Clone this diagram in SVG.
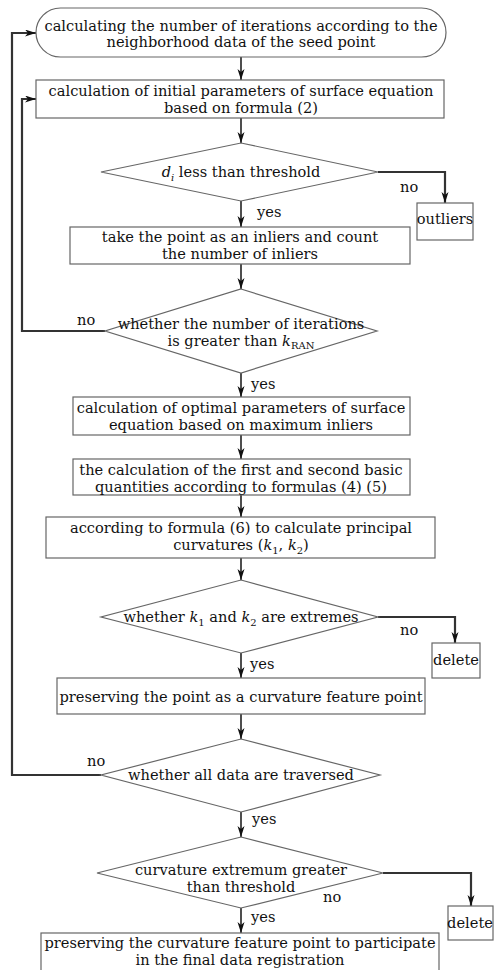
<svg xmlns="http://www.w3.org/2000/svg" width="494" height="970" viewBox="0 0 494 970">
<style>
.s{fill:#fff;stroke:#666;stroke-width:1.2}
.t{font-family:"DejaVu Serif","Liberation Serif",serif;font-size:14.6px;fill:#111;text-anchor:middle}
.l{font-family:"DejaVu Serif","Liberation Serif",serif;font-size:14.6px;fill:#111}
.c{fill:none;stroke:#222;stroke-width:1.6}
.c2{fill:none;stroke:#333;stroke-width:2.2}
.sub{font-size:10px}
</style>
<defs>
<marker id="a" markerUnits="userSpaceOnUse" markerWidth="12" markerHeight="8" refX="11" refY="3.5" orient="auto">
<path d="M0,0 L11,3.5 L0,7 L3,3.5 Z" fill="#111"/>
</marker>
</defs>
<rect width="494" height="970" fill="#fff"/>
<g id="connectors">
<path class="c" d="M241,57 V80" marker-end="url(#a)"/>
<path class="c" d="M241,118 V143" marker-end="url(#a)"/>
<path class="c" d="M241,201 V227" marker-end="url(#a)"/>
<path class="c2" d="M378,172 H445 V203" marker-end="url(#a)"/>
<path class="c" d="M241,264 V289" marker-end="url(#a)"/>
<path class="c" d="M241,373 V397" marker-end="url(#a)"/>
<path class="c2" d="M105,331 H22 V99 H36" marker-end="url(#a)"/>
<path class="c" d="M241,435 V459" marker-end="url(#a)"/>
<path class="c" d="M241,495 V517" marker-end="url(#a)"/>
<path class="c" d="M241,558 V580" marker-end="url(#a)"/>
<path class="c2" d="M378,617 H455 V643" marker-end="url(#a)"/>
<path class="c" d="M241,653 V678" marker-end="url(#a)"/>
<path class="c" d="M241,714 V739" marker-end="url(#a)"/>
<path class="c2" d="M101,775 H12 V33 H36" marker-end="url(#a)"/>
<path class="c" d="M241,812 V837" marker-end="url(#a)"/>
<path class="c2" d="M383,873 H471 V906" marker-end="url(#a)"/>
<path class="c" d="M241,908 V933" marker-end="url(#a)"/>
<text class="l" x="400" y="192">no</text>
<text class="l" x="257" y="217">yes</text>
<text class="l" x="77" y="325">no</text>
<text class="l" x="251" y="389">yes</text>
<text class="l" x="400" y="635">no</text>
<text class="l" x="250" y="669">yes</text>
<text class="l" x="87" y="766">no</text>
<text class="l" x="252" y="824">yes</text>
<text class="l" x="323" y="902">no</text>
<text class="l" x="251" y="922">yes</text>
</g>
<g id="n1">
<rect class="s" x="36" y="8" width="410" height="49" rx="24.5"/>
<text class="t" x="241" y="30.5">calculating the number of iterations according to the</text>
<text class="t" x="241" y="47">neighborhood data of the seed point</text>
</g>
<g id="n2">
<rect class="s" x="36" y="80" width="408" height="38"/>
<text class="t" x="241" y="96">calculation of initial parameters of surface equation</text>
<text class="t" x="241" y="113">based on formula (2)</text>
</g>
<g id="n3">
<polygon class="s" points="241,143 378,172 241,201 101,172"/>
<text class="t" x="241" y="177"><tspan font-style="italic">d</tspan><tspan class="sub" font-style="italic" dy="4">i</tspan><tspan dy="-4"> less than threshold</tspan></text>
</g>
<g id="n4">
<rect class="s" x="417" y="203" width="56" height="37"/>
<text class="t" x="445" y="224">outliers</text>
</g>
<g id="n5">
<rect class="s" x="70" y="227" width="340" height="37"/>
<text class="t" x="240" y="242">take the point as an inliers and count</text>
<text class="t" x="240" y="259">the number of inliers</text>
</g>
<g id="n6">
<polygon class="s" points="241,289 377,331 241,373 105,331"/>
<text class="t" x="241" y="329">whether the number of iterations</text>
<text class="t" x="241" y="346">is greater than <tspan font-style="italic">k</tspan><tspan class="sub" dy="3" font-size="8">RAN</tspan></text>
</g>
<g id="n7">
<rect class="s" x="73" y="397" width="337" height="38"/>
<text class="t" x="241" y="413">calculation of optimal parameters of surface</text>
<text class="t" x="241" y="430">equation based on maximum inliers</text>
</g>
<g id="n8">
<rect class="s" x="73" y="459" width="337" height="36"/>
<text class="t" x="241" y="475">the calculation of the first and second basic</text>
<text class="t" x="241" y="492">quantities according to formulas (4) (5)</text>
</g>
<g id="n9">
<rect class="s" x="46" y="517" width="389" height="41"/>
<text class="t" x="241" y="533">according to formula (6) to calculate principal</text>
<text class="t" x="241" y="550">curvatures (<tspan font-style="italic">k</tspan><tspan class="sub" dy="4">1</tspan><tspan dy="-4">, </tspan><tspan font-style="italic">k</tspan><tspan class="sub" dy="4">2</tspan><tspan dy="-4">)</tspan></text>
</g>
<g id="n10">
<polygon class="s" points="241,580 378,617 241,653 101,617"/>
<text class="t" x="241" y="622">whether <tspan font-style="italic">k</tspan><tspan class="sub" dy="4">1</tspan><tspan dy="-4"> and </tspan><tspan font-style="italic">k</tspan><tspan class="sub" dy="4">2</tspan><tspan dy="-4"> are extremes</tspan></text>
</g>
<g id="n11">
<rect class="s" x="432" y="643" width="48" height="35"/>
<text class="t" x="456" y="665">delete</text>
</g>
<g id="n12">
<rect class="s" x="57" y="678" width="368" height="36"/>
<text class="t" x="241" y="702">preserving the point as a curvature feature point</text>
</g>
<g id="n13">
<polygon class="s" points="241,739 380,775 241,812 101,775"/>
<text class="t" x="241" y="780">whether all data are traversed</text>
</g>
<g id="n14">
<polygon class="s" points="241,837 383,873 241,908 97,873"/>
<text class="t" x="241" y="875">curvature extremum greater</text>
<text class="t" x="241" y="892">than threshold</text>
</g>
<g id="n15">
<rect class="s" x="448" y="906" width="45" height="34"/>
<text class="t" x="470" y="928">delete</text>
</g>
<g id="n16">
<rect class="s" x="41" y="933" width="398" height="45"/>
<text class="t" x="240" y="948">preserving the curvature feature point to participate</text>
<text class="t" x="240" y="965">in the final data registration</text>
</g>
</svg>
